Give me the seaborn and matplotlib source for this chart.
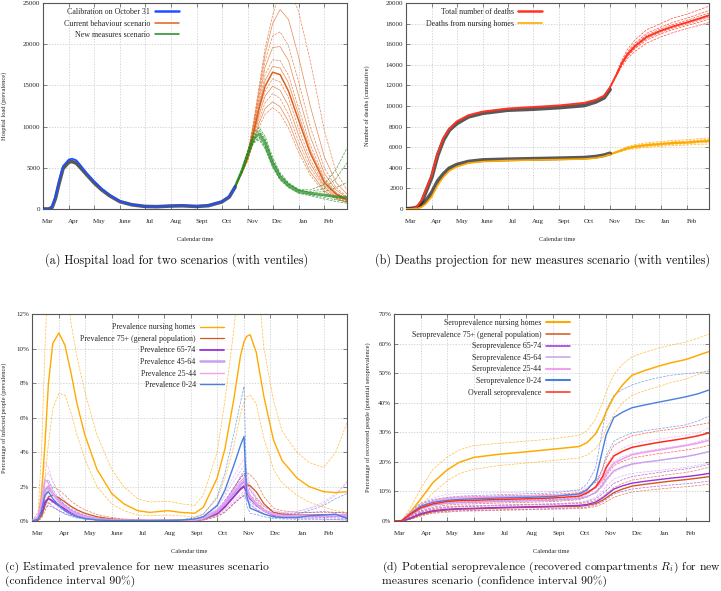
import matplotlib
matplotlib.use("Agg")
import matplotlib.pyplot as plt
import matplotlib.dates as mdates
from matplotlib.lines import Line2D
from matplotlib.ticker import FuncFormatter, FixedLocator, FixedFormatter, NullFormatter
import pandas as pd
import seaborn as sns

# ---------------- data ----------------
month_labels = ["Mar", "Apr", "May", "June", "Jul", "Aug", "Sept", "Oct", "Nov", "Dec", "Jan", "Feb"]
label_dates = ["2020-03-07", "2020-04-07", "2020-05-07", "2020-06-07", "2020-07-07", "2020-08-07",
               "2020-09-07", "2020-10-07", "2020-11-07", "2020-12-07", "2021-01-07", "2021-02-07"]

# (a) hospital load
a_dates = ["2020-03-01", "2020-03-08", "2020-03-12", "2020-03-16", "2020-03-20", "2020-03-25",
           "2020-04-01", "2020-04-05", "2020-04-10", "2020-04-15", "2020-04-22", "2020-05-01",
           "2020-05-10", "2020-05-20", "2020-06-01", "2020-06-15", "2020-07-01", "2020-07-15",
           "2020-08-01", "2020-08-15", "2020-09-01", "2020-09-15", "2020-10-01", "2020-10-10",
           "2020-10-17"]
a_calib = [0, 0, 300, 1500, 3300, 5200, 6000, 6100, 5900, 5300, 4400, 3400, 2500, 1700, 950,
           550, 330, 290, 380, 420, 330, 420, 900, 1500, 2700]
a_obs = [0, 0, 200, 1300, 3000, 4900, 5700, 5750, 5550, 5000, 4200, 3200, 2350, 1600, 900,
         520, 310, 280, 360, 390, 310, 400, 850, 1450, 2650]

a_proj_dates = ["2020-10-17", "2020-10-25", "2020-11-01", "2020-11-08", "2020-11-15", "2020-11-22",
                "2020-12-01", "2020-12-10", "2020-12-20", "2021-01-01", "2021-01-15", "2021-02-01",
                "2021-02-15", "2021-02-28"]
a_current = [2700, 4400, 6300, 9200, 12300, 14900, 16600, 16300, 14300, 10800, 6800, 3200, 1800, 1100]
a_current_ventiles = [
    [2700, 4500, 6700, 10500, 15000, 19500, 23500, 26500, 27000, 24000, 18000, 9500, 4500, 2300],
    [2700, 4500, 6600, 10200, 14500, 18800, 22500, 24200, 23000, 18500, 12500, 6300, 3200, 1800],
    [2700, 4500, 6500, 10000, 14000, 18000, 21000, 21500, 19800, 15500, 10000, 5000, 2600, 1500],
    [2700, 4450, 6450, 9700, 13500, 17200, 19600, 19700, 18000, 13800, 8800, 4300, 2300, 1400],
    [2700, 4450, 6400, 9500, 13000, 16300, 18100, 18000, 16200, 12300, 7800, 3800, 2000, 1200],
    [2700, 4400, 6300, 9300, 12600, 15600, 17300, 17100, 15300, 11500, 7200, 3500, 1900, 1200],
    [2700, 4400, 6200, 9000, 12000, 14300, 15800, 15400, 13500, 9800, 6000, 2900, 1700, 1000],
    [2700, 4350, 6100, 8800, 11500, 13700, 14900, 14400, 12500, 9000, 5500, 2700, 1500, 1000],
    [2700, 4350, 6000, 8500, 11000, 12900, 14000, 13400, 11500, 8200, 5000, 2500, 1400, 900],
    [2700, 4300, 5900, 8200, 10500, 12200, 13000, 12400, 10600, 7500, 4500, 2200, 1300, 800],
    [2700, 4300, 5800, 8000, 10000, 11500, 12300, 11600, 9800, 6900, 4100, 2000, 1200, 800],
]
a_new = [2700, 4600, 6600, 8500, 9100, 8000, 5600, 3900, 2900, 2200, 1900, 1700, 1500, 1400]
a_new_ventiles = [
    [2700, 4800, 7100, 9300, 9900, 8800, 6300, 4400, 3200, 2400, 2300, 3000, 4800, 7400],
    [2700, 4700, 6900, 9000, 9600, 8500, 6000, 4200, 3100, 2300, 2100, 2500, 3700, 5600],
    [2700, 4700, 6800, 8800, 9400, 8300, 5800, 4100, 3000, 2250, 2000, 2100, 2600, 3200],
    [2700, 4500, 6400, 8200, 8700, 7600, 5300, 3700, 2700, 2000, 1700, 1400, 1100, 900],
    [2700, 4400, 6200, 8000, 8400, 7300, 5000, 3500, 2600, 1900, 1600, 1200, 900, 700],
    [2700, 4500, 6300, 8100, 8600, 7400, 5150, 3600, 2650, 1950, 1800, 1600, 1350, 1200],
]

# (b) deaths
b_dates = ["2020-03-01", "2020-03-10", "2020-03-15", "2020-03-20", "2020-03-25", "2020-04-01",
           "2020-04-08", "2020-04-15", "2020-04-22", "2020-05-01", "2020-05-15", "2020-06-01",
           "2020-07-01", "2020-08-01", "2020-09-01", "2020-10-01", "2020-10-15", "2020-10-25",
           "2020-11-01"]
b_total = [0, 50, 300, 900, 1900, 3300, 5400, 6900, 7800, 8500, 9100, 9450, 9750, 9900, 10050,
           10300, 10600, 11000, 11800]
b_total_obs = [0, 30, 200, 700, 1700, 3100, 5200, 6700, 7650, 8300, 8950, 9300, 9600, 9700, 9850,
               10050, 10400, 10800, 11600]
b_nh = [0, 0, 50, 200, 500, 1200, 2300, 3100, 3700, 4100, 4450, 4600, 4700, 4750, 4800, 4850,
        4950, 5100, 5300]
b_nh_obs = [0, 50, 150, 400, 800, 1600, 2700, 3400, 3950, 4300, 4600, 4750, 4820, 4870, 4920,
            4980, 5080, 5220, 5400]
b_proj_dates = ["2020-11-01", "2020-11-08", "2020-11-15", "2020-11-22", "2020-12-01", "2020-12-15",
                "2021-01-01", "2021-01-15", "2021-02-01", "2021-02-15", "2021-02-28"]
b_total_proj = [11800, 12900, 14100, 15000, 15800, 16700, 17300, 17700, 18100, 18450, 18800]
b_total_ventiles = [
    [11800, 13000, 14400, 15500, 16400, 17400, 18000, 18500, 18900, 19300, 19700],
    [11800, 12950, 14250, 15250, 16100, 17050, 17650, 18100, 18500, 18900, 19250],
    [11800, 12920, 14180, 15120, 15950, 16880, 17480, 17900, 18300, 18680, 19020],
    [11800, 12880, 14020, 14900, 15650, 16550, 17150, 17550, 17950, 18280, 18620],
    [11800, 12850, 13950, 14800, 15550, 16400, 17000, 17400, 17800, 18100, 18450],
    [11800, 12800, 13800, 14600, 15300, 16100, 16700, 17100, 17500, 17800, 18100],
]
b_nh_proj = [5300, 5500, 5700, 5900, 6050, 6200, 6300, 6400, 6450, 6550, 6600]
b_nh_ventiles = [
    [5300, 5550, 5800, 6050, 6250, 6420, 6550, 6650, 6720, 6820, 6900],
    [5300, 5520, 5750, 5980, 6150, 6310, 6420, 6520, 6580, 6680, 6750],
    [5300, 5480, 5650, 5830, 5950, 6080, 6180, 6280, 6320, 6420, 6450],
    [5300, 5450, 5600, 5750, 5850, 5980, 6080, 6170, 6200, 6280, 6300],
]

# (c) prevalence (%)
c_dates = ["2020-03-01", "2020-03-08", "2020-03-12", "2020-03-16", "2020-03-20", "2020-03-25",
           "2020-04-01", "2020-04-08", "2020-04-15", "2020-04-22", "2020-05-01", "2020-05-15",
           "2020-06-01", "2020-06-15", "2020-07-01", "2020-07-15", "2020-08-05", "2020-08-20",
           "2020-09-05", "2020-09-15", "2020-10-01", "2020-10-10", "2020-10-20", "2020-10-28",
           "2020-11-01", "2020-11-04", "2020-11-08", "2020-11-15", "2020-11-24", "2020-12-05",
           "2020-12-15", "2021-01-01", "2021-01-15", "2021-02-01", "2021-02-15", "2021-02-28"]
c_nh = [0, 0.2, 1.5, 4.5, 8.0, 10.3, 10.9, 10.2, 8.6, 6.8, 5.0, 3.0, 1.6, 1.0, 0.6, 0.5, 0.6, 0.5,
        0.45, 0.8, 2.5, 4.2, 7.0, 9.6, 10.4, 10.7, 10.8, 9.8, 7.2, 4.7, 3.5, 2.5, 2.0, 1.7, 1.65, 1.7]
c_nh_hi = [0, 0.5, 4, 10, 15, 18, 18, 15, 11.5, 9.5, 7.5, 5, 3.0, 2.0, 1.3, 1.1, 1.15, 1.0, 0.9,
           1.5, 4.0, 7.0, 11, 15, 17, 17.5, 17.5, 15, 10, 7.0, 5.2, 4.0, 3.4, 3.1, 4.0, 5.7]
c_nh_lo = [0, 0.1, 0.8, 2.5, 4.5, 6.5, 7.4, 7.3, 6.3, 5.0, 3.6, 2.0, 1.0, 0.6, 0.35, 0.3, 0.35, 0.3,
           0.25, 0.4, 1.3, 2.5, 4.3, 6.2, 6.9, 7.2, 7.3, 6.8, 4.8, 3.0, 2.2, 1.5, 1.1, 0.8, 0.6, 0.5]
c_75 = [0, 0.05, 0.3, 0.9, 1.4, 1.5, 1.35, 1.1, 0.85, 0.65, 0.45, 0.25, 0.12, 0.07, 0.04, 0.03, 0.03,
        0.03, 0.04, 0.1, 0.4, 0.8, 1.4, 1.9, 2.05, 2.1, 2.05, 1.7, 1.0, 0.5, 0.4, 0.35, 0.35, 0.35, 0.35, 0.35]
c_75_hi = [0, 0.1, 0.5, 1.3, 1.9, 2.0, 1.8, 1.5, 1.15, 0.9, 0.65, 0.38, 0.2, 0.12, 0.07, 0.05, 0.05,
           0.05, 0.07, 0.16, 0.6, 1.1, 1.9, 2.5, 2.75, 2.8, 2.7, 2.3, 1.4, 0.75, 0.6, 0.5, 0.5, 0.5, 0.5, 0.5]
c_75_lo = [0, 0.02, 0.15, 0.6, 1.0, 1.1, 1.0, 0.8, 0.6, 0.45, 0.3, 0.15, 0.07, 0.04, 0.02, 0.02, 0.02,
           0.02, 0.02, 0.05, 0.25, 0.5, 1.0, 1.35, 1.5, 1.55, 1.5, 1.2, 0.7, 0.35, 0.28, 0.25, 0.25, 0.25, 0.25, 0.25]
c_65 = [0, 0.1, 0.5, 1.1, 1.3, 1.15, 0.9, 0.7, 0.5, 0.35, 0.22, 0.1, 0.05, 0.03, 0.02, 0.02, 0.02,
        0.02, 0.05, 0.12, 0.45, 0.85, 1.4, 1.85, 2.0, 1.7, 1.3, 0.95, 0.6, 0.35, 0.3, 0.3, 0.3, 0.35, 0.3, 0.25]
c_65_hi = [0, 0.2, 0.8, 1.6, 1.8, 1.6, 1.25, 0.95, 0.7, 0.5, 0.32, 0.15, 0.08, 0.05, 0.03, 0.03, 0.03,
           0.03, 0.08, 0.2, 0.65, 1.2, 1.9, 2.5, 2.7, 2.3, 1.8, 1.3, 0.85, 0.5, 0.45, 0.45, 0.5, 0.55, 0.5, 0.45]
c_65_lo = [0, 0.04, 0.3, 0.75, 0.9, 0.8, 0.6, 0.45, 0.32, 0.22, 0.14, 0.06, 0.03, 0.02, 0.01, 0.01, 0.01,
           0.01, 0.03, 0.07, 0.3, 0.55, 1.0, 1.35, 1.45, 1.25, 0.95, 0.7, 0.42, 0.22, 0.18, 0.18, 0.18, 0.2, 0.18, 0.15]
c_45 = [0, 0.15, 0.8, 1.8, 2.0, 1.6, 1.15, 0.85, 0.6, 0.4, 0.25, 0.12, 0.05, 0.03, 0.02, 0.02, 0.02,
        0.02, 0.06, 0.15, 0.55, 1.0, 1.6, 2.1, 2.3, 1.9, 1.4, 1.0, 0.6, 0.4, 0.3, 0.3, 0.3, 0.3, 0.3, 0.3]
c_45_hi = [0, 0.3, 1.3, 2.6, 2.8, 2.3, 1.6, 1.2, 0.85, 0.58, 0.36, 0.18, 0.08, 0.05, 0.03, 0.03, 0.03,
           0.03, 0.1, 0.25, 0.8, 1.45, 2.3, 2.9, 3.2, 2.6, 1.9, 1.35, 0.85, 0.6, 0.5, 0.55, 0.7, 1.0, 1.5, 2.3]
c_45_lo = [0, 0.06, 0.45, 1.2, 1.4, 1.1, 0.8, 0.58, 0.4, 0.27, 0.16, 0.07, 0.03, 0.02, 0.01, 0.01, 0.01,
           0.01, 0.03, 0.08, 0.35, 0.65, 1.1, 1.45, 1.6, 1.3, 0.95, 0.68, 0.4, 0.25, 0.2, 0.18, 0.15, 0.12, 0.1, 0.08]
c_25 = [0, 0.25, 1.2, 2.4, 2.2, 1.6, 1.1, 0.8, 0.55, 0.38, 0.24, 0.11, 0.05, 0.03, 0.02, 0.02, 0.02,
        0.03, 0.07, 0.18, 0.65, 1.1, 1.8, 2.3, 2.5, 2.0, 1.45, 1.0, 0.6, 0.4, 0.3, 0.3, 0.3, 0.3, 0.35, 0.4]
c_25_hi = [0, 0.5, 2.0, 3.4, 3.1, 2.3, 1.6, 1.15, 0.8, 0.55, 0.35, 0.17, 0.08, 0.05, 0.03, 0.03, 0.03,
           0.05, 0.11, 0.3, 0.95, 1.6, 2.6, 3.3, 3.6, 2.9, 2.05, 1.4, 0.85, 0.6, 0.5, 0.55, 0.75, 1.1, 1.6, 2.2]
c_25_lo = [0, 0.1, 0.7, 1.6, 1.5, 1.1, 0.75, 0.55, 0.38, 0.26, 0.16, 0.07, 0.03, 0.02, 0.01, 0.01, 0.01,
           0.02, 0.04, 0.1, 0.4, 0.7, 1.2, 1.55, 1.7, 1.35, 0.98, 0.68, 0.4, 0.25, 0.2, 0.18, 0.15, 0.12, 0.1, 0.1]
c_0 = [0, 0.1, 0.6, 1.5, 1.7, 1.3, 0.9, 0.6, 0.4, 0.25, 0.15, 0.06, 0.03, 0.02, 0.02, 0.02, 0.03,
       0.05, 0.12, 0.25, 0.9, 1.8, 3.2, 4.4, 4.9, 1.5, 0.75, 0.6, 0.4, 0.25, 0.2, 0.2, 0.3, 0.35, 0.4, 0.15]
c_0_hi = [0, 0.2, 1.0, 2.2, 2.4, 1.85, 1.3, 0.9, 0.6, 0.38, 0.23, 0.1, 0.05, 0.03, 0.03, 0.03, 0.05,
          0.08, 0.2, 0.4, 1.4, 2.8, 5.0, 6.9, 7.8, 2.2, 1.1, 0.85, 0.6, 0.4, 0.35, 0.4, 0.6, 0.9, 1.3, 1.6]
c_0_lo = [0, 0.04, 0.3, 0.9, 1.1, 0.85, 0.6, 0.4, 0.27, 0.17, 0.1, 0.04, 0.02, 0.01, 0.01, 0.01, 0.02,
          0.03, 0.07, 0.15, 0.55, 1.1, 1.9, 2.6, 2.9, 0.9, 0.45, 0.38, 0.25, 0.15, 0.12, 0.1, 0.1, 0.1, 0.08, 0.05]

# (d) seroprevalence (%)
d_dates = ["2020-03-01", "2020-03-10", "2020-03-20", "2020-04-01", "2020-04-15", "2020-05-01",
           "2020-05-15", "2020-06-01", "2020-07-01", "2020-08-01", "2020-09-01", "2020-10-01",
           "2020-10-10", "2020-10-20", "2020-10-28", "2020-11-01", "2020-11-10", "2020-11-20",
           "2020-12-01", "2020-12-15", "2021-01-01", "2021-01-15", "2021-02-01", "2021-02-15",
           "2021-02-28"]
d_nh = [0, 0.1, 3.0, 7.5, 13.0, 17.2, 19.8, 21.5, 22.6, 23.4, 24.3, 25.2, 26.5, 29.5, 34.0, 36.8,
        42.0, 46.0, 49.3, 50.8, 52.4, 53.5, 54.6, 56.0, 57.3]
d_nh_hi = [0, 0.2, 4.5, 11.0, 17.5, 21.5, 24.0, 25.5, 26.3, 27.0, 27.8, 29.0, 30.5, 34.5, 40.0, 43.5,
           49.5, 53.0, 55.5, 57.0, 58.5, 59.5, 60.5, 61.8, 63.2]
d_nh_lo = [0, 0.05, 2.0, 5.0, 9.5, 13.5, 16.0, 17.5, 18.8, 19.6, 20.5, 21.3, 22.3, 24.5, 28.0, 31.0,
           36.0, 40.0, 42.5, 44.0, 45.5, 46.8, 48.0, 49.5, 51.2]
d_75 = [0, 0.05, 0.8, 2.2, 3.2, 3.7, 4.0, 4.1, 4.4, 4.6, 4.8, 5.0, 5.3, 5.9, 7.0, 7.8, 9.6, 10.8,
        11.8, 12.4, 13.0, 13.5, 14.0, 14.5, 15.0]
d_75_hi = [0, 0.1, 1.2, 2.8, 3.9, 4.5, 4.8, 4.9, 5.2, 5.4, 5.6, 5.9, 6.2, 6.9, 8.2, 9.2, 11.3, 12.7,
           13.8, 14.5, 15.2, 15.8, 16.4, 17.2, 18.2]
d_75_lo = [0, 0.02, 0.5, 1.7, 2.6, 3.0, 3.3, 3.4, 3.6, 3.8, 4.0, 4.2, 4.4, 4.9, 5.8, 6.5, 8.0, 9.0,
           9.8, 10.3, 10.8, 11.2, 11.6, 12.0, 12.5]
d_65 = [0, 0.05, 1.0, 2.5, 3.5, 4.0, 4.2, 4.3, 4.6, 4.8, 5.0, 5.3, 5.6, 6.4, 7.8, 8.7, 10.8, 11.9,
        12.8, 13.4, 14.0, 14.5, 15.0, 15.5, 16.1]
d_65_hi = [0, 0.1, 1.4, 3.1, 4.2, 4.8, 5.0, 5.1, 5.4, 5.6, 5.8, 6.2, 6.6, 7.5, 9.2, 10.3, 12.7, 14.0,
           15.0, 15.7, 16.4, 17.0, 17.6, 18.3, 19.2]
d_65_lo = [0, 0.02, 0.7, 2.0, 2.9, 3.3, 3.5, 3.6, 3.8, 4.0, 4.2, 4.5, 4.7, 5.4, 6.5, 7.3, 9.1, 10.0,
           10.8, 11.3, 11.8, 12.2, 12.6, 13.0, 13.5]
d_45 = [0, 0.1, 2.0, 4.2, 5.4, 6.0, 6.2, 6.3, 6.6, 6.8, 7.0, 7.6, 8.3, 9.6, 12.0, 14.0, 17.0, 18.3,
        19.3, 19.9, 20.5, 21.1, 21.8, 22.6, 23.5]
d_45_hi = [0, 0.15, 2.6, 5.1, 6.5, 7.2, 7.5, 7.6, 7.9, 8.1, 8.4, 9.0, 9.8, 11.4, 14.3, 16.7, 20.2,
           21.8, 22.9, 23.6, 24.3, 25.0, 25.8, 26.8, 28.0]
d_45_lo = [0, 0.05, 1.5, 3.4, 4.4, 4.9, 5.1, 5.2, 5.4, 5.6, 5.8, 6.3, 6.9, 8.0, 10.0, 11.7, 14.2,
           15.3, 16.1, 16.6, 17.1, 17.6, 18.2, 18.9, 19.6]
d_25 = [0, 0.15, 2.7, 5.0, 6.6, 7.6, 7.9, 8.0, 8.2, 8.4, 8.6, 9.0, 9.8, 11.2, 13.8, 16.0, 19.5, 21.0,
        22.4, 23.2, 24.0, 24.7, 25.5, 26.3, 27.3]
d_25_hi = [0, 0.2, 3.4, 6.1, 7.9, 9.0, 9.3, 9.4, 9.6, 9.8, 10.0, 10.5, 11.4, 13.1, 16.1, 18.8, 22.8,
           24.6, 26.0, 26.9, 27.7, 28.3, 29.0, 29.8, 31.5]
d_25_lo = [0, 0.08, 2.0, 4.0, 5.4, 6.3, 6.6, 6.7, 6.9, 7.1, 7.3, 7.6, 8.3, 9.5, 11.7, 13.6, 16.5,
           17.8, 19.0, 19.7, 20.4, 21.0, 21.7, 22.4, 23.3]
d_0 = [0, 0.1, 2.5, 5.0, 6.3, 7.0, 7.3, 7.5, 7.8, 8.0, 8.3, 9.2, 10.5, 14.0, 24.0, 29.0, 35.0, 36.8,
       38.3, 39.2, 40.2, 41.0, 42.0, 43.0, 44.3]
d_0_hi = [0, 0.2, 3.3, 6.0, 7.3, 8.0, 8.4, 8.6, 8.9, 9.2, 9.5, 10.5, 12.5, 18.0, 31.0, 37.5, 42.5,
          44.5, 46.0, 47.3, 48.5, 49.3, 49.8, 50.2, 50.5]
d_0_lo = [0, 0.05, 1.8, 4.0, 5.3, 6.0, 6.3, 6.5, 6.8, 7.0, 7.3, 8.0, 9.0, 11.5, 18.0, 22.0, 27.0,
          28.5, 29.8, 30.5, 31.2, 31.8, 32.5, 33.8, 35.5]
d_all = [0, 0.1, 2.3, 4.5, 5.8, 6.6, 6.9, 7.0, 7.3, 7.5, 7.8, 8.4, 9.5, 11.5, 15.0, 18.0, 22.0, 23.6,
         24.9, 25.7, 26.6, 27.2, 28.0, 28.8, 29.8]
d_all_hi = [0, 0.15, 2.9, 5.5, 7.0, 7.8, 8.1, 8.2, 8.5, 8.7, 9.0, 9.6, 10.9, 13.2, 17.5, 21.0, 25.5,
            27.3, 28.8, 29.6, 30.5, 31.0, 31.8, 32.5, 33.2]
d_all_lo = [0, 0.05, 1.7, 3.5, 4.7, 5.4, 5.7, 5.8, 6.1, 6.3, 6.6, 7.2, 8.1, 9.8, 12.7, 15.2, 18.7,
            20.2, 21.3, 22.0, 22.8, 23.3, 24.0, 24.7, 25.6]

# ---------------- style ----------------
C_BLUE = "#1f4fff"
C_ORANGE = "#e0601a"
C_GREEN = "#1f8a1f"
C_RED = "#ff3322"
C_NH = "#ffaa00"
C_75 = "#d2571a"
C_65 = "#9b30d9"
C_45 = "#c8a0f0"
C_25 = "#f0a0ee"
C_0 = "#4a7fe0"
C_ALL = "#ff2a1a"

sns.set_theme(style="ticks")
plt.rcParams["font.family"] = ["Liberation Serif", "DejaVu Serif"]
plt.rcParams["mathtext.fontset"] = "cm"


def draw(ax, dates, vals, color, lw=1.0, ls="-", alpha=1.0, z=2):
    sns.lineplot(x=pd.to_datetime(dates), y=vals, ax=ax, color=color, lw=lw, ls=ls,
                 alpha=alpha, zorder=z, legend=False, estimator=None)


def style_axes(ax, ylabel, ylim, yticks, pct=False, ylab_x=-0.1):
    ax.set_xlim(pd.Timestamp("2020-03-01"), pd.Timestamp("2021-02-28"))
    ax.set_ylim(*ylim)
    ax.set_yticks(yticks)
    if pct:
        ax.yaxis.set_major_formatter(FuncFormatter(lambda v, p: f"{v:.0f}%"))
    ax.xaxis.set_major_locator(mdates.MonthLocator())
    ax.xaxis.set_major_formatter(NullFormatter())
    ax.xaxis.set_minor_locator(FixedLocator(mdates.date2num(pd.to_datetime(label_dates))))
    ax.xaxis.set_minor_formatter(FixedFormatter(month_labels))
    ax.tick_params(axis="both", which="major", direction="in", length=3, width=0.5,
                   top=True, right=True, labelsize=5, color="#555555", pad=2)
    ax.tick_params(axis="x", which="minor", length=0, pad=7, labelsize=5, top=False)
    ax.grid(True, which="major", ls=(0, (2, 2)), lw=0.5, color="#c8c8c8")
    for s in ax.spines.values():
        s.set_color("#555555")
        s.set_linewidth(0.8)
    ax.set_xlabel("Calendar time", fontsize=4.6)
    ax.xaxis.set_label_coords(0.5, -0.135)
    ax.set_ylabel(ylabel, fontsize=4.6)
    ax.yaxis.set_label_coords(ylab_x, 0.5)


def legend(ax, items, x, y):
    handles = [Line2D([], [], color=c, lw=w) for _, c, w in items]
    labels = [t for t, _, _ in items]
    ax.legend(handles, labels, loc="upper right", bbox_to_anchor=(x, y), frameon=False,
              markerfirst=False, alignment="right", fontsize=5.7, handlelength=3.0,
              handletextpad=0.6, labelspacing=0.45, borderaxespad=0, borderpad=0)


fig = plt.figure(figsize=(7.21, 5.91), dpi=100)
ax_a = fig.add_axes([0.0596, 0.6464, 0.4216, 0.3486])
ax_b = fig.add_axes([0.5631, 0.6464, 0.4203, 0.3486])
ax_c = fig.add_axes([0.0444, 0.1184, 0.4369, 0.3503])
ax_d = fig.add_axes([0.5465, 0.1184, 0.4369, 0.3503])

# (a)
for i, v in enumerate(a_current_ventiles):
    draw(ax_a, a_proj_dates, v, C_ORANGE, lw=0.5, ls="--" if i % 2 == 0 else "-", alpha=0.75)
draw(ax_a, a_proj_dates, a_current, C_ORANGE, lw=1.1, z=3)
for v in a_new_ventiles:
    draw(ax_a, a_proj_dates, v, C_GREEN, lw=0.5, ls="--", alpha=0.8, z=4)
draw(ax_a, a_proj_dates, a_new, C_GREEN, lw=2.0, alpha=0.7, z=4)
draw(ax_a, a_dates, a_obs, "#222222", lw=2.6, alpha=0.75, z=5)
draw(ax_a, a_dates, a_calib, C_BLUE, lw=1.3, z=6)
style_axes(ax_a, "Hospital load (prevalence)", (0, 25000), range(0, 25001, 5000), ylab_x=-0.118)
legend(ax_a, [("Calibration on October 31", C_BLUE, 1.8),
              ("Current behaviour scenario", C_ORANGE, 1.1),
              ("New measures scenario", C_GREEN, 1.1)], 0.447, 0.975)

# (b)
for v in b_total_ventiles:
    draw(ax_b, b_proj_dates, v, C_RED, lw=0.5, ls="--", alpha=0.85)
draw(ax_b, b_proj_dates, b_total_proj, C_RED, lw=1.4, z=3)
for v in b_nh_ventiles:
    draw(ax_b, b_proj_dates, v, C_NH, lw=0.5, ls="--", alpha=0.9)
draw(ax_b, b_proj_dates, b_nh_proj, C_NH, lw=1.6, z=3)
draw(ax_b, b_dates, b_total_obs, "#222222", lw=2.8, alpha=0.75, z=4)
draw(ax_b, b_dates, b_total, C_RED, lw=1.4, z=5)
draw(ax_b, b_dates, b_nh_obs, "#222222", lw=2.8, alpha=0.75, z=4)
draw(ax_b, b_dates, b_nh, C_NH, lw=1.2, z=5)
style_axes(ax_b, "Number of deaths (cumulative)", (0, 20000), range(0, 20001, 2000), ylab_x=-0.119)
legend(ax_b, [("Total number of deaths", C_RED, 1.8),
              ("Deaths from nursing homes", C_NH, 1.2)], 0.449, 0.975)

# (c)
c_groups = [(c_nh, c_nh_hi, c_nh_lo, C_NH, 1.0), (c_75, c_75_hi, c_75_lo, C_75, 0.9),
            (c_65, c_65_hi, c_65_lo, C_65, 1.3), (c_45, c_45_hi, c_45_lo, C_45, 1.8),
            (c_25, c_25_hi, c_25_lo, C_25, 1.0), (c_0, c_0_hi, c_0_lo, C_0, 1.0)]
for mid, hi, lo, col, w in c_groups:
    draw(ax_c, c_dates, hi, col, lw=0.5, ls="--", alpha=0.75)
    draw(ax_c, c_dates, lo, col, lw=0.5, ls="--", alpha=0.75)
for mid, hi, lo, col, w in c_groups:
    draw(ax_c, c_dates, mid, col, lw=w, z=3)
style_axes(ax_c, "Percentage of infected people (prevalence)", (0, 12), range(0, 13, 2), pct=True,
           ylab_x=-0.079)
legend(ax_c, [("Prevalence nursing homes", C_NH, 1.0),
              ("Prevalence 75+ (general population)", C_75, 0.9),
              ("Prevalence 65-74", C_65, 1.3),
              ("Prevalence 45-64", C_45, 1.8),
              ("Prevalence 25-44", C_25, 1.0),
              ("Prevalence 0-24", C_0, 1.0)], 0.61, 0.955)

# (d)
d_groups = [(d_nh, d_nh_hi, d_nh_lo, C_NH, 1.1), (d_75, d_75_hi, d_75_lo, C_75, 1.0),
            (d_65, d_65_hi, d_65_lo, C_65, 1.0), (d_45, d_45_hi, d_45_lo, C_45, 1.0),
            (d_25, d_25_hi, d_25_lo, C_25, 1.2), (d_0, d_0_hi, d_0_lo, C_0, 1.0),
            (d_all, d_all_hi, d_all_lo, C_ALL, 1.1)]
for mid, hi, lo, col, w in d_groups:
    draw(ax_d, d_dates, hi, col, lw=0.5, ls="--", alpha=0.75)
    draw(ax_d, d_dates, lo, col, lw=0.5, ls="--", alpha=0.75)
for mid, hi, lo, col, w in d_groups:
    draw(ax_d, d_dates, mid, col, lw=w, z=3)
style_axes(ax_d, "Percentage of recovered people (potential seroprevalence)", (0, 70),
           range(0, 71, 10), pct=True, ylab_x=-0.073)
legend(ax_d, [("Seroprevalence nursing homes", C_NH, 1.5),
              ("Seroprevalence 75+ (general population)", C_75, 1.1),
              ("Seroprevalence 65-74", C_65, 1.1),
              ("Seroprevalence 45-64", C_45, 1.1),
              ("Seroprevalence 25-44", C_25, 1.5),
              ("Seroprevalence 0-24", C_0, 1.5),
              ("Overall seroprevalence", C_ALL, 1.1)], 0.559, 0.975)

# captions
cap_top = dict(fontsize=8.7, va="center", ha="left", color="#111111", family="cmr10")
cap_bot = dict(fontsize=8.35, va="center", ha="left", color="#111111", family="cmr10")
fig.text(45 / 721, 1 - 260 / 591, "(a) Hospital load for two scenarios (with ventiles)", **cap_top)
fig.text(375 / 721, 1 - 260 / 591, "(b) Deaths projection for new measures scenario (with ventiles)", **cap_top)
fig.text(5 / 721, 1 - 567 / 591, "(c) Estimated prevalence for new measures scenario", **cap_bot)
fig.text(5 / 721, 1 - 581 / 591, "(confidence interval 90%)", **cap_bot)
fig.text(382 / 721, 1 - 567 / 591,
         "(d) Potential seroprevalence (recovered compartments $R_i$) for new", **cap_bot)
fig.text(382 / 721, 1 - 581 / 591, "measures scenario (confidence interval 90%)", **cap_bot)

fig.savefig("out.png", dpi=100)
